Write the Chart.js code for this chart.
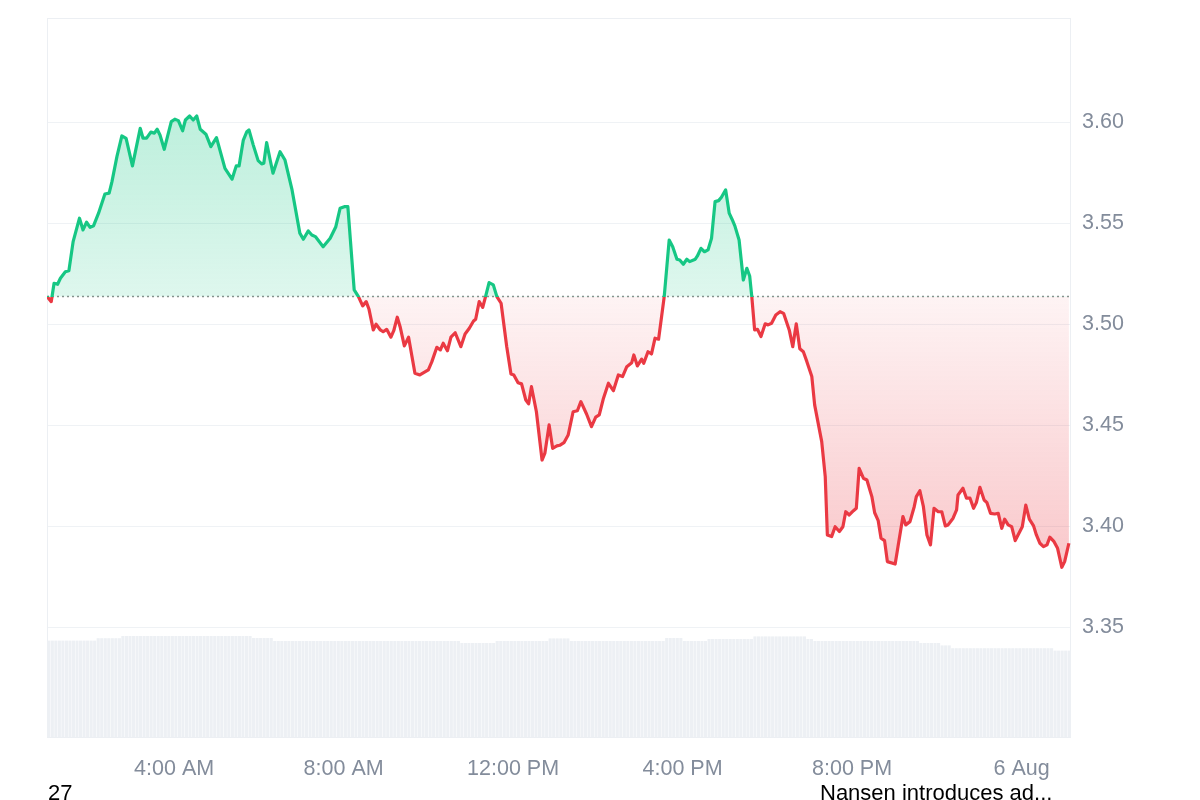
<!DOCTYPE html>
<html>
<head>
<meta charset="utf-8">
<script src="https://cdn.jsdelivr.net/npm/chart.js@4.4.0/dist/chart.umd.min.js"></script>
<style>
  body { margin: 0; background: #fff; font-family: "Liberation Sans", Arial, sans-serif; }
  #wrap { position: relative; width: 1200px; height: 800px; overflow: hidden; }
  .news { position: absolute; top: 782px; font-size: 22px; line-height: 22px; color: #000; white-space: nowrap; }
</style>
</head>
<body>
<div id="wrap">
  <canvas id="canvas"></canvas>
  <div class="news" style="left:48px">27</div>
  <div class="news" style="left:820px">Nansen introduces ad...</div>
</div>
<script>
// 24h price, times in minutes from 00:00 on 5 Aug
var basePrice = 3.5138;

var priceTimes = [
  60,66,70,75,79,86,91,97,106,111,
  116,121,126,133,142,148,152,159,166,172,
  181,192,196,201,207,212,216,220,226,236,
  241,246,252,256,262,267,272,277,285,292,
  300,312,322,328,332,338,343,346,352,359,
  364,367,371,376,380,390,397,407,418,423,
  430,435,440,451,461,469,475,481,486,495,
  501,507,512,516,522,526,532,536,541,547,
  551,556,560,566,572,581,588,600,605,612,
  617,621,627,632,638,646,652,658,664,667,
  672,677,681,686,692,697,703,711,717,721,
  727,732,738,742,746,753,761,765,771,776,
  782,786,792,798,805,811,816,824,831,837,
  842,848,855,862,869,875,881,888,891,896,
  902,905,911,916,921,926,930,934,941,946,
  952,956,961,966,970,978,981,986,991,996,
  1001,1006,1011,1015,1021,1026,1030,1034,1040,1046,
  1051,1055,1058,1062,1066,1071,1077,1081,1086,1092,
  1098,1103,1111,1116,1121,1126,1131,1136,1143,1147,
  1157,1162,1165,1171,1176,1182,1187,1191,1196,1202,
  1206,1210,1216,1221,1228,1232,1237,1241,1246,1250,
  1261,1265,1272,1276,1282,1288,1291,1296,1301,1306,
  1311,1316,1322,1327,1332,1336,1343,1348,1350,1357,
  1362,1367,1372,1376,1381,1387,1391,1396,1402,1407,
  1412,1416,1421,1426,1431,1435,1441,1446,1451,1457,
  1461,1466,1471,1476,1480,1486,1491,1497,1501,1507
];

var prices = [
  3.5138,3.5113,3.5204,3.5199,3.5229,3.5261,3.5266,3.5410,3.5526,3.5468,
  3.5506,3.5481,3.5489,3.5551,3.5646,3.5650,3.5707,3.5831,3.5933,3.5921,
  3.5785,3.5971,3.5922,3.5922,3.5952,3.5947,3.5966,3.5938,3.5867,3.6004,
  3.6016,3.6009,3.5959,3.6012,3.6032,3.6012,3.6032,3.5966,3.5942,3.5880,
  3.5925,3.5773,3.5719,3.5785,3.5785,3.5913,3.5954,3.5963,3.5889,3.5811,
  3.5795,3.5798,3.5900,3.5814,3.5749,3.5855,3.5814,3.5666,3.5452,3.5422,
  3.5463,3.5443,3.5435,3.5385,3.5427,3.5484,3.5575,3.5583,3.5583,3.5171,
  3.5138,3.5092,3.5113,3.5075,3.4973,3.5001,3.4973,3.4964,3.4976,3.4937,
  3.4969,3.5036,3.4989,3.4894,3.4937,3.4759,3.4750,3.4775,3.4816,3.4887,
  3.4874,3.4907,3.4870,3.4937,3.4959,3.4890,3.4953,3.4981,3.5017,3.5026,
  3.5113,3.5085,3.5138,3.5207,3.5196,3.5138,3.5105,3.4890,3.4755,3.4750,
  3.4712,3.4706,3.4626,3.4607,3.4692,3.4568,3.4329,3.4363,3.4503,3.4387,
  3.4399,3.4402,3.4415,3.4453,3.4568,3.4573,3.4618,3.4557,3.4494,3.4541,
  3.4552,3.4635,3.4709,3.4672,3.4750,3.4742,3.4791,3.4811,3.4849,3.4795,
  3.4828,3.4808,3.4865,3.4854,3.4932,3.4927,3.5032,3.5138,3.5418,3.5385,
  3.5323,3.5319,3.5298,3.5323,3.5311,3.5323,3.5339,3.5377,3.5360,3.5369,
  3.5427,3.5608,3.5613,3.5630,3.5666,3.5551,3.5521,3.5488,3.5418,3.5220,
  3.5278,3.5240,3.5138,3.4973,3.4976,3.4940,3.5003,3.4998,3.5006,3.5047,
  3.5063,3.5055,3.4973,3.4890,3.5003,3.4880,3.4865,3.4816,3.4742,3.4602,
  3.4420,3.4247,3.3958,3.3950,3.3999,3.3975,3.3999,3.4073,3.4057,3.4078,
  3.4090,3.4288,3.4239,3.4230,3.4148,3.4068,3.4029,3.3942,3.3930,3.3826,
  3.3814,3.3900,3.4049,3.4008,3.4024,3.4098,3.4148,3.4177,3.4098,3.3958,
  3.3909,3.4090,3.4073,3.4073,3.4003,3.4008,3.4041,3.4082,3.4156,3.4189,
  3.4140,3.4140,3.4090,3.4118,3.4194,3.4131,3.4118,3.4065,3.4062,3.4065,
  3.3991,3.4036,3.4008,3.3999,3.3930,3.3958,3.3999,3.4106,3.4036,3.4003,
  3.3958,3.3917,3.3900,3.3909,3.3947,3.3925,3.3892,3.3798,3.3826,3.3917
];

// volume (M), one bar per 5 minutes starting at 01:00
var volStart = 60;
var volStep = 5;
var volumes = [
  48.2,48.2,48.2,48.2,48.2,48.2,48.2,48.2,48.2,48.2,48.2,48.2,48.2,48.2,
  49.4,49.4,49.4,49.4,49.4,49.4,49.4,
  50.5,50.5,50.5,50.5,50.5,50.5,50.5,50.5,50.5,50.5,
  50.5,50.5,50.5,50.5,50.5,50.5,50.5,50.5,50.5,50.5,
  50.5,50.5,50.5,50.5,50.5,50.5,50.5,50.5,50.5,50.5,
  50.5,50.5,50.5,50.5,50.5,50.5,50.5,
  49.5,49.5,49.5,49.5,49.5,49.5,
  48.0,48.0,48.0,48.0,48.0,48.0,48.0,48.0,48.0,48.0,
  48.0,48.0,48.0,48.0,48.0,48.0,48.0,48.0,48.0,48.0,
  48.0,48.0,48.0,48.0,48.0,48.0,48.0,48.0,48.0,48.0,
  48.0,48.0,48.0,48.0,48.0,48.0,48.0,48.0,48.0,48.0,
  48.0,48.0,48.0,48.0,48.0,48.0,48.0,48.0,48.0,48.0,
  48.0,48.0,48.0,
  47.0,47.0,47.0,47.0,47.0,47.0,47.0,47.0,47.0,47.0,
  48.0,48.0,48.0,48.0,48.0,48.0,48.0,48.0,48.0,48.0,48.0,48.0,48.0,48.0,48.0,
  49.3,49.3,49.3,49.3,49.3,49.3,
  48.0,48.0,48.0,48.0,48.0,48.0,48.0,48.0,48.0,48.0,
  48.0,48.0,48.0,48.0,48.0,48.0,48.0,48.0,48.0,48.0,
  48.0,48.0,48.0,48.0,48.0,48.0,48.0,
  49.5,49.5,49.5,49.5,49.5,
  48.0,48.0,48.0,48.0,48.0,48.0,48.0,
  49.0,49.0,49.0,49.0,49.0,49.0,49.0,49.0,49.0,49.0,49.0,49.0,49.0,
  50.3,50.3,50.3,50.3,50.3,50.3,50.3,50.3,50.3,50.3,50.3,50.3,50.3,50.3,50.3,
  49.0,49.0,
  48.0,48.0,48.0,48.0,48.0,48.0,48.0,48.0,48.0,48.0,
  48.0,48.0,48.0,48.0,48.0,48.0,48.0,48.0,48.0,48.0,
  48.0,48.0,48.0,48.0,48.0,48.0,48.0,48.0,48.0,48.0,
  47.0,47.0,47.0,47.0,47.0,47.0,
  45.8,45.8,45.8,
  44.4,44.4,44.4,44.4,44.4,44.4,44.4,44.4,44.4,44.4,
  44.4,44.4,44.4,44.4,44.4,44.4,44.4,44.4,44.4,44.4,
  44.4,44.4,44.4,44.4,44.4,44.4,44.4,44.4,44.4,
  43.2,43.2,43.2,43.2,43.2
];

var tickTimes = [240, 480, 720, 960, 1200, 1440];
var tickLabels = ['4:00 AM', '8:00 AM', '12:00 PM', '4:00 PM', '8:00 PM', '6 Aug'];
var priceTicks = [3.35, 3.40, 3.45, 3.50, 3.55, 3.60];

var green = '#16c784';
var red = '#ea3943';
var labelColor = '#838c9b';

Chart.defaults.font.family = '"Liberation Sans", Arial, sans-serif';

function splitGradient(chart, c1, c2, c3, c4) {
  var area = chart.chartArea;
  if (!area || !chart.scales.y) return c1;
  var y0 = chart.scales.y.getPixelForValue(basePrice);
  var f = (y0 - area.top) / (area.bottom - area.top);
  f = Math.min(Math.max(f, 0), 1);
  var g = chart.ctx.createLinearGradient(0, area.top, 0, area.bottom);
  g.addColorStop(0, c1);
  g.addColorStop(f, c2);
  g.addColorStop(f, c3);
  g.addColorStop(1, c4);
  return g;
}

var pricePoints = priceTimes.map(function (t, i) { return { x: t, y: prices[i] }; });
var volPoints = volumes.map(function (v, i) { return { x: volStart + volStep * i + volStep / 2, y: v }; });

var frame = {
  id: 'frame',
  beforeDatasetsDraw: function (chart) {
    var a = chart.chartArea;
    var ctx = chart.ctx;
    ctx.save();
    ctx.strokeStyle = '#eceff3';
    ctx.lineWidth = 1;
    ctx.strokeRect(a.left + 0.5, a.top + 0.5, a.right - a.left - 1, a.bottom - a.top);
    ctx.restore();
  }
};

var ctx = document.getElementById('canvas').getContext('2d');
var chart = new Chart(ctx, {
  type: 'line',
  data: {
    datasets: [
      {
        label: 'Price',
        data: pricePoints,
        order: 1,
        borderWidth: 3.2,
        borderJoinStyle: 'round',
        pointRadius: 0,
        tension: 0,
        borderColor: function (c) { return splitGradient(c.chart, green, green, red, red); },
        backgroundColor: function (c) {
          return splitGradient(c.chart, 'rgba(22,199,132,0.36)', 'rgba(22,199,132,0.14)',
                                        'rgba(234,57,67,0.06)', 'rgba(234,57,67,0.42)');
        },
        fill: { target: { value: basePrice } }
      },
      {
        label: 'Open',
        data: [{ x: 60, y: basePrice }, { x: 1510, y: basePrice }],
        order: 2,
        borderColor: '#8e8e8e',
        borderWidth: 1.5,
        borderDash: [2, 3],
        pointRadius: 0,
        fill: false
      },
      {
        type: 'bar',
        label: 'Volume',
        data: volPoints,
        yAxisID: 'vol',
        order: 3,
        backgroundColor: '#edf0f4',
        borderWidth: 0,
        barPercentage: 0.88,
        categoryPercentage: 1
      }
    ]
  },
  options: {
    responsive: true,
    maintainAspectRatio: false,
    animation: false,
    events: [],
    layout: { padding: { left: 47, top: 18, right: 0, bottom: 0 } },
    plugins: { legend: { display: false }, tooltip: { enabled: false } },
    scales: {
      x: {
        type: 'linear',
        min: 60,
        max: 1510,
        offset: false,
        grid: { display: false },
        border: { display: false },
        afterBuildTicks: function (s) { s.ticks = tickTimes.map(function (v) { return { value: v }; }); },
        afterFit: function (s) { s.height = 63; s.paddingLeft = 0; s.paddingRight = 0; },
        ticks: {
          autoSkip: false,
          maxRotation: 0,
          padding: 11,
          color: labelColor,
          font: { size: 21.5 },
          callback: function (v) { return tickLabels[tickTimes.indexOf(v)]; }
        }
      },
      y: {
        position: 'right',
        min: 3.2958,
        max: 3.6517,
        grid: { color: '#eff2f5', drawTicks: false },
        border: { display: false },
        afterBuildTicks: function (s) { s.ticks = priceTicks.map(function (v) { return { value: v }; }); },
        afterFit: function (s) { s.width = 129; s.paddingTop = 0; s.paddingBottom = 0; },
        ticks: {
          padding: 11,
          color: labelColor,
          font: { size: 21.5 },
          callback: function (v) { return v.toFixed(2); }
        }
      },
      vol: {
        type: 'linear',
        axis: 'y',
        display: false,
        min: 0,
        max: 359.5
      }
    }
  },
  plugins: [frame]
});
</script>
</body>
</html>
